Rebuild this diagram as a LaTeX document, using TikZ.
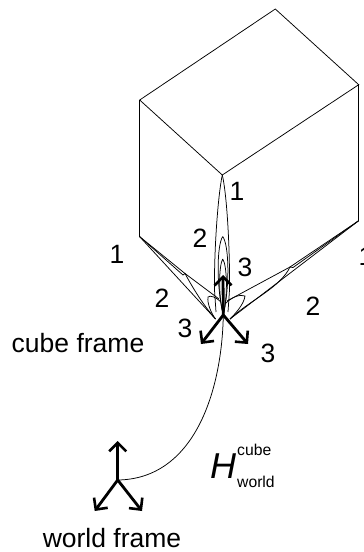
\documentclass[tikz,border=0pt]{standalone}
\usepackage{fontspec}
\setmainfont{Liberation Sans}
\usetikzlibrary{arrows.meta}
\tikzset{
  edge/.style={draw=black,line width=0.75pt},
  lobe/.style={draw=black,line width=0.75pt},
  axis/.style={draw=black,line width=2.8pt,-{Straight Barb[length=8.5pt,width=17pt,line width=2.6pt]}},
  lab/.style={font=\fontsize{26.5}{26.5}\selectfont,inner sep=0pt,anchor=base},
  num/.style={font=\fontsize{26.5}{26.5}\selectfont,inner sep=0pt,anchor=center},
  subs/.style={inner sep=0pt,font=\fontsize{15.7}{15.7}\selectfont,anchor=base west},
}
\begin{document}
\begin{tikzpicture}[x=1pt,y=-1pt]
\useasboundingbox (0,0) rectangle (364,552);
\coordinate (T) at (275.3,9);
\coordinate (L) at (139.7,100);
\coordinate (R) at (358.7,84.7);
\coordinate (C) at (222.3,175);
\coordinate (LB) at (139.7,236.7);
\coordinate (RB) at (358.7,220.7);
\coordinate (O) at (223.3,315);
\coordinate (LO) at (215.5,319);
\coordinate (RO) at (230,319);
\coordinate (Lt) at (185,273.5);
\coordinate (Rt) at (290,267);
\coordinate (Oup) at (223,275);
\coordinate (Ol) at (201,344);
\coordinate (Or) at (248,344);
\coordinate (W) at (117.7,480);
\coordinate (Wup) at (117.7,441);
\coordinate (Wl) at (94.7,511);
\coordinate (Wr) at (142,511);
\draw[edge] (L)--(T)--(R)--(C)--cycle;
\draw[edge] (L)--(LB) (R)--(RB);
% centre lobes
\draw[lobe] (C) .. controls (218,195) and (214,250) .. (214.5,290) -- (216,312);
\draw[lobe] (C) .. controls (227,195) and (230,250) .. (229.5,290) -- (228,312);
\draw[lobe] (222.7,236.5) .. controls (217,245) and (216,285) .. (O) .. controls (230,285) and (229,245) .. (222.7,236.5);
\draw[lobe] (222.7,259) .. controls (219,265) and (218,295) .. (O) .. controls (228,295) and (227,265) .. (222.7,259);
% left lobes
\draw[lobe] (LB) -- (Lt) -- (219,299);
\draw[lobe] (LB) -- (LO);
\draw[lobe] (LB) -- (183,275) -- (Lt) .. controls (195,292) and (205,307) .. (LO);
\draw[lobe] (221,302) .. controls (216,297) and (210,295) .. (208,297) .. controls (207,303) and (211,313) .. (LO);
% right lobes
\draw[lobe] (RB) -- (Rt) -- (227,301);
\draw[lobe] (RB) -- (RO);
\draw[lobe] (RB) -- (293,267.5) -- (Rt) .. controls (280,288) and (250,300) .. (RO);
\draw[lobe] (226,303) .. controls (232,297) and (240,294) .. (245,296) .. controls (244,304) and (236,313) .. (RO);
% frames
\draw[axis] (O)--(Oup);
\draw[axis] (O)--(Ol);
\draw[axis] (O)--(Or);
\draw[axis] (W)--(Wup);
\draw[axis] (W)--(Wl);
\draw[axis] (W)--(Wr);
\draw[line width=0.75pt] (O) .. controls (222,390) and (195,479) .. (W);
\node[num] (n1) at (237,191) {1};
\node[num] (n2) at (200,238) {2};
\node[num] (n3) at (245,267) {3};
\node[num] (n4) at (117,254) {1};
\node[num] (n5) at (162,298) {2};
\node[num] (n6) at (185,328) {3};
\node[num] (n7) at (313,306) {2};
\node[num] (n8) at (268,353) {3};
\node[num,anchor=west] (n9) at (358.5,256) {1};
\node[lab] (cf) at (78,352) {cube frame};
\node[lab] (wf) at (112,547) {world frame};
\node[inner sep=0pt,font=\fontsize{36}{36}\selectfont\itshape,anchor=base] (H) at (223,478) {H};
\node[subs] (sa) at (237,455) {cube};
\node[subs] (sb) at (237,487) {world};
\end{tikzpicture}
\end{document}
